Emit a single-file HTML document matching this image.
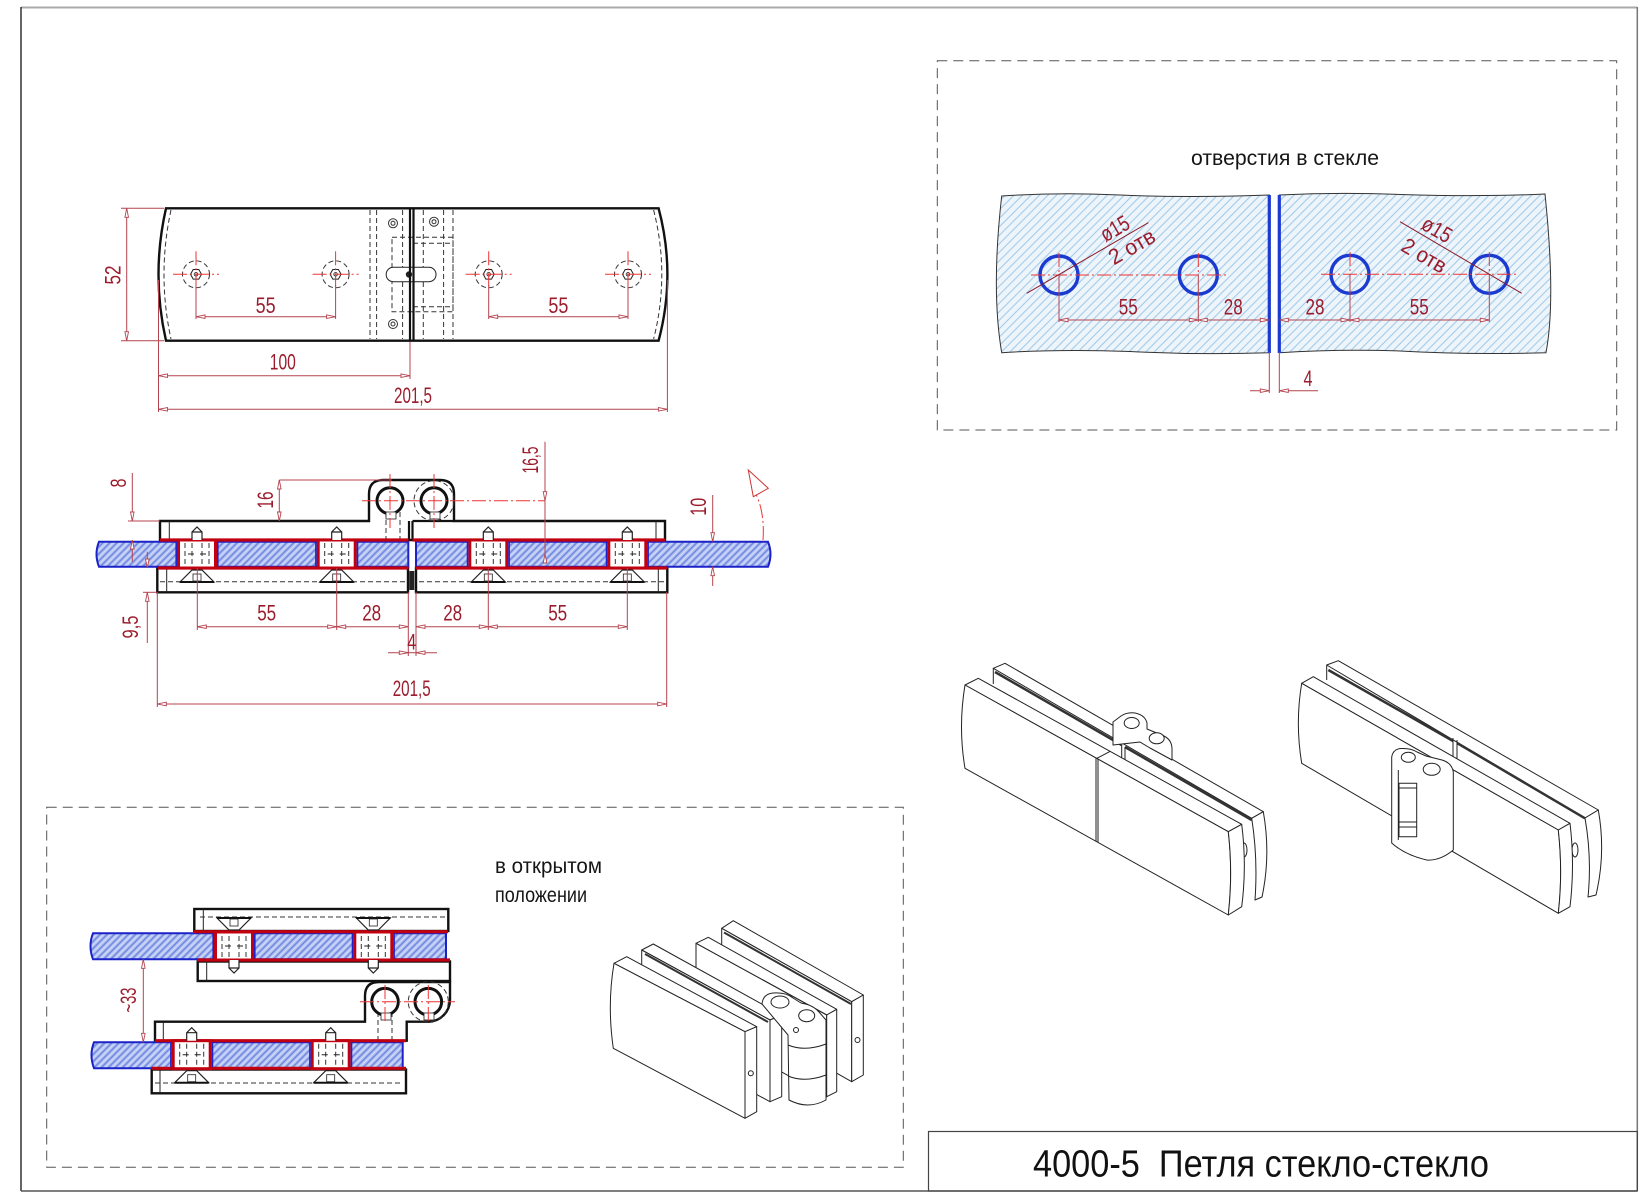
<!DOCTYPE html>
<html><head><meta charset="utf-8">
<style>
html,body{margin:0;padding:0;background:#fff;}
svg{display:block;}
.t{font-family:"Liberation Sans Narrow","Liberation Sans",sans-serif;}
.d{fill:#9b1c2c;font-size:22px;text-anchor:middle;}
.lb{fill:#151515;font-size:21px;}
.dl{stroke:#b4434f;stroke-width:1;fill:none;}
.cl{stroke:#e33;stroke-width:1;stroke-dasharray:14 3 2 3;fill:none;}
.k{stroke:#111;stroke-width:2.4;fill:#fff;}
.kt{stroke:#222;stroke-width:1;fill:none;}
.hd{stroke:#333;stroke-width:1;stroke-dasharray:5 3;fill:none;}
.rd{stroke:#c10010;stroke-width:3.2;fill:none;}
.iso{stroke:#222;stroke-width:1;fill:#fff;stroke-linejoin:round;}
.gl{fill:url(#hs);stroke:#1a22c8;stroke-width:2;}
</style></head><body>
<svg width="1645" height="1198" viewBox="0 0 1645 1198" xmlns="http://www.w3.org/2000/svg">
<defs>
<marker id="ar" viewBox="0 0 10 6" refX="10" refY="3" markerWidth="10" markerHeight="6" markerUnits="userSpaceOnUse" orient="auto-start-reverse"><path d="M10,3 L1,1.2 L1,4.8 Z" fill="#fff" stroke="#b4434f" stroke-width="0.9"/></marker>
<pattern id="hp" patternUnits="userSpaceOnUse" width="6" height="6" patternTransform="rotate(-45)"><rect width="6" height="6" fill="#edf5fb"/><line x1="0" y1="3" x2="6" y2="3" stroke="#a4cbe8" stroke-width="1.1"/></pattern>
<pattern id="hs" patternUnits="userSpaceOnUse" width="5" height="5" patternTransform="rotate(-45)"><rect width="5" height="5" fill="#b3c2f1"/><line x1="0" y1="1.5" x2="5" y2="1.5" stroke="#6b84de" stroke-width="1.4"/><line x1="0" y1="4" x2="5" y2="4" stroke="#dbe3fa" stroke-width="0.8"/></pattern>
<g id="hole">
<circle r="13.5" class="hd"/>
<polygon points="-5.5,0 -2.8,-4.8 2.8,-4.8 5.5,0 2.8,4.8 -2.8,4.8" fill="#fff" stroke="#222" stroke-width="1"/>
<circle r="1.8" fill="none" stroke="#222" stroke-width="0.8"/>
<line x1="-23" y1="0" x2="23" y2="0" class="cl"/>
<line x1="0" y1="-23" x2="0" y2="12" class="cl"/>
</g>
<g id="sc">
<rect x="-18.5" y="0" width="37" height="28" fill="#fff" stroke="#c10010" stroke-width="3"/>
<line x1="-20.8" y1="1.5" x2="-20.8" y2="26.5" stroke="#1a22c8" stroke-width="1.6"/>
<line x1="20.8" y1="1.5" x2="20.8" y2="26.5" stroke="#1a22c8" stroke-width="1.6"/>
<path d="M-12,3V25M-5,3V25M5,3V25M12,3V25" class="hd"/>
<path d="M-9,14H-3M3,14H9" class="kt"/>
<path d="M-5,0V-8L0,-13L5,-8V0M-5,-8H5" fill="#fff" stroke="#222" stroke-width="1.2"/>
<path d="M-17,42L-5,30H5L17,42Z" fill="#fff" stroke="#222" stroke-width="1.2"/>
<line x1="-17" y1="42" x2="17" y2="42" stroke="#111" stroke-width="2"/>
<rect x="-4" y="34" width="8" height="7" fill="none" stroke="#222" stroke-width="0.8"/>
</g>
</defs>

<!-- outer frame -->
<line x1="21" y1="7.5" x2="1637" y2="7.5" stroke="#aaa" stroke-width="2"/>
<line x1="21" y1="7" x2="21" y2="1191" stroke="#333" stroke-width="1.5"/>
<line x1="1637.3" y1="7" x2="1637.3" y2="1191" stroke="#777" stroke-width="1.5"/>
<line x1="21" y1="1191" x2="1637" y2="1191" stroke="#555" stroke-width="1.5"/>

<!-- ============ PLAN VIEW ============ -->
<path d="M166,208.3 H658.6 Q676.2,274.5 658.6,340.7 H166 Q151,274.5 166,208.3 Z" fill="#fff" stroke="#111" stroke-width="2.4"/>
<path d="M171,210 Q157,274.5 171,339 M653.6,210 Q670,274.5 653.6,339" class="hd"/>
<path d="M370,210V339M376.6,210V339M402.6,210V339M423.3,210V339M443.6,210V339M453,210V339" class="hd"/>
<rect x="392" y="237.3" width="61" height="74.4" class="hd"/>
<path d="M413,243.3H453M413,306.7H453" class="hd"/>
<rect x="386.2" y="267.3" width="49.8" height="14.4" rx="7" fill="#fff" stroke="#222" stroke-width="1"/>
<circle cx="409" cy="274.5" r="3.2" fill="#222"/>
<line x1="410" y1="208.3" x2="410" y2="340.7" stroke="#111" stroke-width="2.2"/>
<line x1="413.5" y1="208.3" x2="413.5" y2="340.7" stroke="#111" stroke-width="2.2"/>
<g fill="none" stroke="#333" stroke-width="1">
<circle cx="393" cy="223.3" r="4.5"/><circle cx="393" cy="223.3" r="2"/>
<circle cx="393" cy="324" r="4.5"/><circle cx="393" cy="324" r="2"/>
<circle cx="434" cy="221.7" r="4.5"/><circle cx="434" cy="221.7" r="2"/>
</g>
<use href="#hole" transform="translate(196,274.3)"/>
<use href="#hole" transform="translate(335.6,274.3)"/>
<use href="#hole" transform="translate(488.7,274.3)"/>
<use href="#hole" transform="translate(628,274.3)"/>
<path d="M196,285V319M335.6,285V319M488.7,285V319M628,285V319" class="dl"/>
<line x1="196" y1="316.7" x2="335.6" y2="316.7" class="dl" marker-start="url(#ar)" marker-end="url(#ar)"/>
<line x1="488.7" y1="316.7" x2="628" y2="316.7" class="dl" marker-start="url(#ar)" marker-end="url(#ar)"/>
<path d="M121,208.3H164M121,340.7H164" class="dl"/>
<line x1="126.7" y1="208.3" x2="126.7" y2="340.7" class="dl" marker-start="url(#ar)" marker-end="url(#ar)"/>
<path d="M158.5,280V412M667.4,280V412M410,342V379" class="dl"/>
<line x1="158.5" y1="375.7" x2="410" y2="375.7" class="dl" marker-start="url(#ar)" marker-end="url(#ar)"/>
<line x1="158.5" y1="409.3" x2="667.4" y2="409.3" class="dl" marker-start="url(#ar)" marker-end="url(#ar)"/>
<text class="t d" x="265.6" y="312.8" textLength="20" lengthAdjust="spacingAndGlyphs">55</text>
<text class="t d" x="558.4" y="312.8" textLength="20" lengthAdjust="spacingAndGlyphs">55</text>
<text class="t d" transform="translate(112.5,275) rotate(-90)" x="0" y="7.8" textLength="19" lengthAdjust="spacingAndGlyphs">52</text>
<text class="t d" x="282.8" y="369.5" textLength="26" lengthAdjust="spacingAndGlyphs">100</text>
<text class="t d" x="413" y="402.8" textLength="38" lengthAdjust="spacingAndGlyphs">201,5</text>

<!-- ============ SECTION VIEW ============ -->
<path d="M160,540 V521 H369 V494 Q369,480 383,480 H440 Q454,480 454,494 V521 H665 V540 Z" class="k"/>
<path d="M409,521V540M412.5,521V540M412.5,521H454" stroke="#111" stroke-width="2.2" fill="none"/>
<path d="M169.3,521V540M656,521V540" class="kt"/>
<path d="M386,512V540M400,512V540" class="hd"/>
<circle cx="434" cy="500.7" r="20" class="hd"/>
<path d="M157.3,568 H408 V592.3 H157.3 Z M416,568 H667.3 V592.3 H416 Z" class="k"/>
<path d="M160,581.7H405M419,581.7H664" class="hd"/>
<path d="M166.7,568V592M658.3,568V592" class="kt"/>
<rect x="409.3" y="571" width="5" height="19" fill="#222"/>
<path d="M99,541.7 H408.3 V566.7 H99 Q94,554 99,541.7 Z" class="gl"/>
<path d="M416,541.7 H768 Q773,554 768,566.7 H416 Z" class="gl"/>
<path d="M160,540H408.5M412.5,540H665M158,568H408.5M415.5,568H667" class="rd"/>
<use href="#sc" transform="translate(197,540)"/>
<use href="#sc" transform="translate(336.7,540)"/>
<use href="#sc" transform="translate(488.3,540)"/>
<use href="#sc" transform="translate(627.3,540)"/>
<circle cx="390" cy="500.7" r="13" fill="#fff" stroke="#111" stroke-width="3"/>
<circle cx="434" cy="500.7" r="13" fill="#fff" stroke="#111" stroke-width="3"/>
<rect x="386" y="512" width="10" height="7" fill="#fff" stroke="#222" stroke-width="0.8"/>
<rect x="430" y="512" width="10" height="7" fill="#fff" stroke="#222" stroke-width="0.8"/>
<path d="M362,500.7H545" class="cl"/>
<path d="M390,474V528M434,474V528" class="cl"/>
<!-- section dims -->
<path d="M279.3,480H392" class="dl"/>
<line x1="279.3" y1="480" x2="279.3" y2="521" class="dl" marker-start="url(#ar)" marker-end="url(#ar)"/>
<path d="M128,521H160" class="dl"/>
<line x1="132.3" y1="473" x2="132.3" y2="521" class="dl" marker-end="url(#ar)"/>
<line x1="132.3" y1="561.7" x2="132.3" y2="540" class="dl" marker-end="url(#ar)"/>
<path d="M143,592.3H157" class="dl"/>
<line x1="147.3" y1="551.7" x2="147.3" y2="568" class="dl" marker-end="url(#ar)"/>
<line x1="147.3" y1="643" x2="147.3" y2="592.3" class="dl" marker-end="url(#ar)"/>
<line x1="712.7" y1="495" x2="712.7" y2="541.7" class="dl" marker-end="url(#ar)"/>
<line x1="712.7" y1="586" x2="712.7" y2="566.7" class="dl" marker-end="url(#ar)"/>
<line x1="545" y1="441.7" x2="545" y2="500.7" class="dl" marker-end="url(#ar)"/>
<line x1="545" y1="561.7" x2="545" y2="554" class="dl" marker-end="url(#ar)"/>
<line x1="545" y1="500.7" x2="545" y2="554" class="dl"/>
<path d="M197.3,568V630M336.7,568V630M488.3,568V630M627.3,568V630M408.3,592V656M416,592V656M157.3,592V707M666.7,592V707" class="dl"/>
<line x1="197.3" y1="626.7" x2="336.7" y2="626.7" class="dl" marker-start="url(#ar)" marker-end="url(#ar)"/>
<line x1="336.7" y1="626.7" x2="408.3" y2="626.7" class="dl" marker-start="url(#ar)" marker-end="url(#ar)"/>
<line x1="416" y1="626.7" x2="488.3" y2="626.7" class="dl" marker-start="url(#ar)" marker-end="url(#ar)"/>
<line x1="488.3" y1="626.7" x2="627.3" y2="626.7" class="dl" marker-start="url(#ar)" marker-end="url(#ar)"/>
<line x1="388" y1="652.7" x2="408.3" y2="652.7" class="dl" marker-end="url(#ar)"/>
<line x1="437" y1="652.7" x2="416" y2="652.7" class="dl" marker-end="url(#ar)"/>
<line x1="408.3" y1="652.7" x2="416" y2="652.7" class="dl"/>
<line x1="157.3" y1="704" x2="666.7" y2="704" class="dl" marker-start="url(#ar)" marker-end="url(#ar)"/>
<path d="M763,540 Q765,512 755,492" class="cl" stroke="#d33"/>
<polygon points="748.3,470 768.3,488.3 753.3,496.7" fill="#fff" stroke="#c33" stroke-width="1"/>
<text class="t d" transform="translate(265,500) rotate(-90)" x="0" y="7.8" textLength="17" lengthAdjust="spacingAndGlyphs">16</text>
<text class="t d" transform="translate(530,460) rotate(-90)" x="0" y="7.8" textLength="27" lengthAdjust="spacingAndGlyphs">16,5</text>
<text class="t d" transform="translate(118,483) rotate(-90)" x="0" y="7.8" textLength="9" lengthAdjust="spacingAndGlyphs">8</text>
<text class="t d" transform="translate(130,627) rotate(-90)" x="0" y="7.8" textLength="23" lengthAdjust="spacingAndGlyphs">9,5</text>
<text class="t d" transform="translate(698,506.7) rotate(-90)" x="0" y="7.8" textLength="18" lengthAdjust="spacingAndGlyphs">10</text>
<text class="t d" x="266.7" y="620.5" textLength="19" lengthAdjust="spacingAndGlyphs">55</text>
<text class="t d" x="371.7" y="620.5" textLength="19" lengthAdjust="spacingAndGlyphs">28</text>
<text class="t d" x="452.7" y="620.5" textLength="19" lengthAdjust="spacingAndGlyphs">28</text>
<text class="t d" x="557.7" y="620.5" textLength="19" lengthAdjust="spacingAndGlyphs">55</text>
<text class="t d" x="411.7" y="649.5" textLength="9" lengthAdjust="spacingAndGlyphs">4</text>
<text class="t d" x="411.7" y="696" textLength="38" lengthAdjust="spacingAndGlyphs">201,5</text>

<!-- ============ TOP RIGHT: HOLES IN GLASS ============ -->
<rect x="937.3" y="60.7" width="679.4" height="369.3" fill="none" stroke="#555" stroke-width="1" stroke-dasharray="10 6"/>
<text class="t lb" x="1285" y="165" text-anchor="middle" textLength="188" lengthAdjust="spacingAndGlyphs">отверстия в стекле</text>
<path d="M1001.7,196 Q1060,192 1120,195 Q1190,198 1269.3,195 V352.7 Q1200,355 1130,351.5 Q1060,349 1001.7,352.7 Q991,290 1001.7,196 Z" fill="url(#hp)" stroke="#333" stroke-width="1"/>
<path d="M1279.3,195 Q1340,192 1400,194.5 Q1480,197 1545,194 Q1556,300 1546,352.7 Q1470,355 1400,351 Q1340,349 1279.3,352.7 Z" fill="url(#hp)" stroke="#333" stroke-width="1"/>
<path d="M1269.3,195V353M1279.3,195V353" stroke="#1a3ad0" stroke-width="3.2"/>
<g fill="none" stroke="#1a3ad0" stroke-width="3.4">
<circle cx="1059" cy="275" r="19"/><circle cx="1198.3" cy="275" r="19"/>
<circle cx="1350" cy="274.3" r="19"/><circle cx="1489.3" cy="274.3" r="19"/>
</g>
<path d="M1031,275H1227M1321,274.3H1517M1059,253V275M1198.3,253V275M1350,252V274M1489.3,252V274" class="cl"/>
<path d="M1059,275V322M1198.3,275V322M1350,274V322M1489.3,274V322M1269.3,352V393M1279.3,352V393" class="dl"/>
<line x1="1059" y1="320" x2="1198.3" y2="320" class="dl" marker-start="url(#ar)" marker-end="url(#ar)"/>
<line x1="1198.3" y1="320" x2="1269.3" y2="320" class="dl" marker-start="url(#ar)" marker-end="url(#ar)"/>
<line x1="1279.3" y1="320" x2="1350" y2="320" class="dl" marker-start="url(#ar)" marker-end="url(#ar)"/>
<line x1="1350" y1="320" x2="1489.3" y2="320" class="dl" marker-start="url(#ar)" marker-end="url(#ar)"/>
<line x1="1250" y1="390.7" x2="1269.3" y2="390.7" class="dl" marker-end="url(#ar)"/>
<line x1="1318" y1="390.7" x2="1279.3" y2="390.7" class="dl" marker-end="url(#ar)"/>
<line x1="1026.7" y1="293.3" x2="1148.3" y2="222.7" stroke="#8b1a28" stroke-width="1"/>
<line x1="1400" y1="221.7" x2="1521.7" y2="293.3" stroke="#8b1a28" stroke-width="1"/>
<text class="t d" x="1128.3" y="314.5" textLength="19" lengthAdjust="spacingAndGlyphs">55</text>
<text class="t d" x="1233.3" y="314.5" textLength="19" lengthAdjust="spacingAndGlyphs">28</text>
<text class="t d" x="1315" y="314.5" textLength="19" lengthAdjust="spacingAndGlyphs">28</text>
<text class="t d" x="1419.3" y="314.5" textLength="19" lengthAdjust="spacingAndGlyphs">55</text>
<text class="t d" x="1308" y="385.8" textLength="9" lengthAdjust="spacingAndGlyphs">4</text>
<text class="t d" transform="translate(1115,229) rotate(-30)" x="0" y="7" textLength="30" lengthAdjust="spacingAndGlyphs">ø15</text>
<text class="t d" transform="translate(1132,247) rotate(-30)" x="0" y="7" textLength="50" lengthAdjust="spacingAndGlyphs">2 отв</text>
<text class="t d" transform="translate(1436.7,230) rotate(30)" x="0" y="7" textLength="31" lengthAdjust="spacingAndGlyphs">ø15</text>
<text class="t d" transform="translate(1424,256) rotate(30)" x="0" y="7" textLength="48" lengthAdjust="spacingAndGlyphs">2 отв</text>

<!-- ============ BOTTOM LEFT: OPEN POSITION ============ -->
<rect x="46.7" y="807.3" width="856.6" height="360" fill="none" stroke="#555" stroke-width="1" stroke-dasharray="10 6"/>
<text class="t lb" x="495" y="873" textLength="107" lengthAdjust="spacingAndGlyphs">в открытом</text>
<text class="t lb" x="495" y="902" textLength="92" lengthAdjust="spacingAndGlyphs">положении</text>
<!-- upper assembly -->
<rect x="194.3" y="909" width="254" height="22" class="k"/>
<path d="M203.3,909V931" class="kt"/>
<path d="M200,917H445" class="hd"/>
<rect x="197.7" y="961.5" width="252.3" height="19.5" class="k"/>
<path d="M206.7,961.5V981" class="kt"/>
<path d="M93,933.3 H446 V959.3 H93 Q88,946 93,933.3 Z" class="gl"/>
<path d="M194,931.7H448M197,960H450" class="rd"/>
<use href="#sc" transform="translate(234,960) scale(1,-1)"/>
<use href="#sc" transform="translate(373.3,960) scale(1,-1)"/>
<!-- knuckle -->
<path d="M155,1040.7 V1021.7 H365 V996 Q365,982 379,982 H450 V1000 A22,22 0 0 1 429,1021.7 H406.7 V1040.7 Z" class="k"/>
<path d="M378,1012V1040M392,1012V1040" class="hd"/>
<path d="M163.3,1021.7V1040.7" class="kt"/>
<circle cx="428.3" cy="1001.7" r="20" class="hd"/>
<circle cx="385" cy="1001.7" r="13.3" fill="#fff" stroke="#111" stroke-width="3"/>
<circle cx="428.3" cy="1001.7" r="13.3" fill="#fff" stroke="#111" stroke-width="3"/>
<rect x="381" y="1013" width="10" height="7" fill="#fff" stroke="#222" stroke-width="0.8"/>
<rect x="424" y="1013" width="10" height="7" fill="#fff" stroke="#222" stroke-width="0.8"/>
<path d="M360,1001.7H455M385,985V1022M428.3,985V1022" class="cl"/>
<!-- lower assembly -->
<rect x="151.7" y="1069.5" width="254.3" height="23.8" class="k"/>
<path d="M160,1069.5V1093.3" class="kt"/>
<path d="M155,1083H403" class="hd"/>
<path d="M94,1042.3 H402.7 V1068.3 H94 Q89,1055 94,1042.3 Z" class="gl"/>
<path d="M155,1040.7H406M151.7,1068.3H406" class="rd"/>
<use href="#sc" transform="translate(191.7,1040.7)"/>
<use href="#sc" transform="translate(330.7,1040.7)"/>
<line x1="143.3" y1="959.3" x2="143.3" y2="1042.3" class="dl" marker-start="url(#ar)" marker-end="url(#ar)"/>
<text class="t d" transform="translate(128.3,1000) rotate(-90)" x="0" y="7.8" textLength="25" lengthAdjust="spacingAndGlyphs">~33</text>

<!-- small isometric (open) -->
<path class="iso" d="M721.7,928.3 L733.3,920.7 L863.3,995 L851.7,1001.7 Z"/>
<path class="iso" d="M721.7,928.3 L851.7,1001.7 L851.7,1081.7 L721.7,1008 Z"/>
<path class="iso" d="M851.7,1001.7 L863.3,995 L863.3,1075 L851.7,1081.7 Z"/>
<line x1="724" y1="932.5" x2="851" y2="1004" stroke="#333" stroke-width="2"/>
<circle cx="857.5" cy="1040" r="2.5" class="iso"/>
<path class="iso" d="M696,943.3 L708.3,937.3 L836.7,1009.3 L826.7,1015 Z"/>
<path class="iso" d="M696,943.3 L826.7,1015 L826.7,1096.7 L696,1025 Z"/>
<path class="iso" d="M826.7,1015 L836.7,1009.3 L836.7,1091.7 L826.7,1096.7 Z"/>
<path class="iso" d="M641.7,950 L653.3,944 L781.7,1015 L770,1020 Z"/>
<path class="iso" d="M641.7,950 L770,1020 L770,1101.7 L641.7,1032 Z"/>
<path class="iso" d="M770,1020 L781.7,1015 L781.7,1096.7 L770,1101.7 Z"/>
<line x1="645" y1="954" x2="768" y2="1022" stroke="#333" stroke-width="2"/>
<path class="iso" d="M762,1004 Q763,994 773,993 Q786,992 793,998 L801,1003 Q813,1005 819,1012 L826,1020 V1100 Q808,1110 789,1100 L788,1035 Z"/>
<ellipse cx="780" cy="1002" rx="9" ry="6" class="iso"/>
<ellipse cx="806.7" cy="1015.7" rx="8" ry="6" class="iso"/>
<path d="M788,1045 Q805,1052 826,1044 M788,1076 Q805,1083 826,1075" class="kt"/>
<circle cx="796" cy="1030" r="2.5" class="iso"/>
<path class="iso" d="M614,963.3 L626.7,956.7 L756.7,1026.7 L745,1031.7 Z"/>
<path class="iso" d="M614,963.3 L745,1031.7 L745,1118.3 L613.3,1048.3 Q607,1005 614,963.3 Z"/>
<path class="iso" d="M745,1031.7 L756.7,1026.7 L756.7,1111.7 L745,1118.3 Z"/>
<circle cx="750.8" cy="1073.3" r="2.5" class="iso"/>

<!-- ============ BIG ISOMETRIC 1 ============ -->
<path class="iso" d="M993.3,668.3 L1005,663.3 L1263.3,811.7 L1251.7,818.3 Z"/>
<path class="iso" d="M1251.7,818.3 L1263.3,811.7 Q1271,855 1262,897 L1255,900 Q1258,858 1251.7,818.3 Z"/>
<line x1="993.3" y1="668.3" x2="993.3" y2="684" class="kt"/>
<path d="M995,672 L1121.7,745 M1125,747 L1251.7,820" stroke="#333" stroke-width="2.5" fill="none"/>
<path d="M1121.7,745V762M1125,747V763" class="kt"/>
<path class="iso" d="M1113,745 V722 L1121,716 Q1127,712 1135,713 Q1145,715 1147,723 L1147,729 L1164,736 Q1172,740 1172,749 V760 L1150,748 L1140,742 Z"/>
<ellipse cx="1131.7" cy="723" rx="7.5" ry="5.5" class="iso"/>
<ellipse cx="1156.7" cy="738.3" rx="7.5" ry="5.5" class="iso"/>
<ellipse cx="1244" cy="850" rx="3" ry="7" class="iso"/>
<path class="iso" d="M965,685 L978.3,678.3 L1241.7,824.3 L1228.3,831.7 Z"/>
<path class="iso" d="M965,685 L1228.3,831.7 Q1233,873 1228.3,915 L965,768.3 Q958,727 965,685 Z"/>
<path class="iso" d="M1228.3,831.7 L1241.7,824.3 Q1247,866 1241.7,906.7 L1228.3,915 Q1233,873 1228.3,831.7 Z"/>
<path d="M1096,758V841.3M1098,759V842.4M1096.7,758.4L1110,751.4" class="kt"/>

<!-- ============ BIG ISOMETRIC 2 ============ -->
<path class="iso" d="M1326.7,665 L1338.3,660.7 L1598.3,810 L1585,818 Z"/>
<path class="iso" d="M1585,818 L1598.3,810 Q1606,853 1596,895 L1588,897 Q1592,858 1585,818 Z"/>
<line x1="1326.7" y1="665" x2="1326.7" y2="680" class="kt"/>
<path d="M1328.3,670 L1453,741 M1457,743 L1585,818.3" stroke="#333" stroke-width="2.5" fill="none"/>
<path d="M1453,738V760M1457,740V762" class="kt"/>
<ellipse cx="1575" cy="850" rx="3" ry="7" class="iso"/>
<path class="iso" d="M1301.7,683.3 L1313.3,676.7 L1570,823.3 L1558.3,830 Z"/>
<path class="iso" d="M1301.7,683.3 L1558.3,830 Q1563,872 1558.3,913.3 L1301.7,763.3 Q1295,723 1301.7,683.3 Z"/>
<path class="iso" d="M1558.3,830 L1570,823.3 Q1575,865 1570,906.7 L1558.3,913.3 Q1563,872 1558.3,830 Z"/>
<path class="iso" d="M1391.7,843 V757 Q1393,749 1401,748.5 Q1411,748 1417,752 L1426,756 L1442,760 Q1452,763 1453.3,772 V850 Q1440,861 1426.7,860 Q1405,855 1391.7,843 Z"/>
<path d="M1398.3,770V840" class="kt"/>
<rect x="1399" y="783.3" width="17.7" height="53.4" class="iso"/>
<path d="M1399,788H1416.7M1399,822H1416.7M1399,827H1416.7" class="kt"/>
<ellipse cx="1408.3" cy="757.3" rx="7" ry="5" class="iso"/>
<ellipse cx="1431.7" cy="769.3" rx="8.5" ry="6" class="iso"/>

<!-- ============ TITLE BLOCK ============ -->
<rect x="928.5" y="1131.5" width="708.8" height="59.5" fill="none" stroke="#444" stroke-width="1.2"/>
<text class="t" x="1261" y="1176.5" font-size="38" fill="#111" text-anchor="middle" textLength="456" lengthAdjust="spacingAndGlyphs" xml:space="preserve">4000-5  Петля стекло-стекло</text>
</svg>
</body></html>
